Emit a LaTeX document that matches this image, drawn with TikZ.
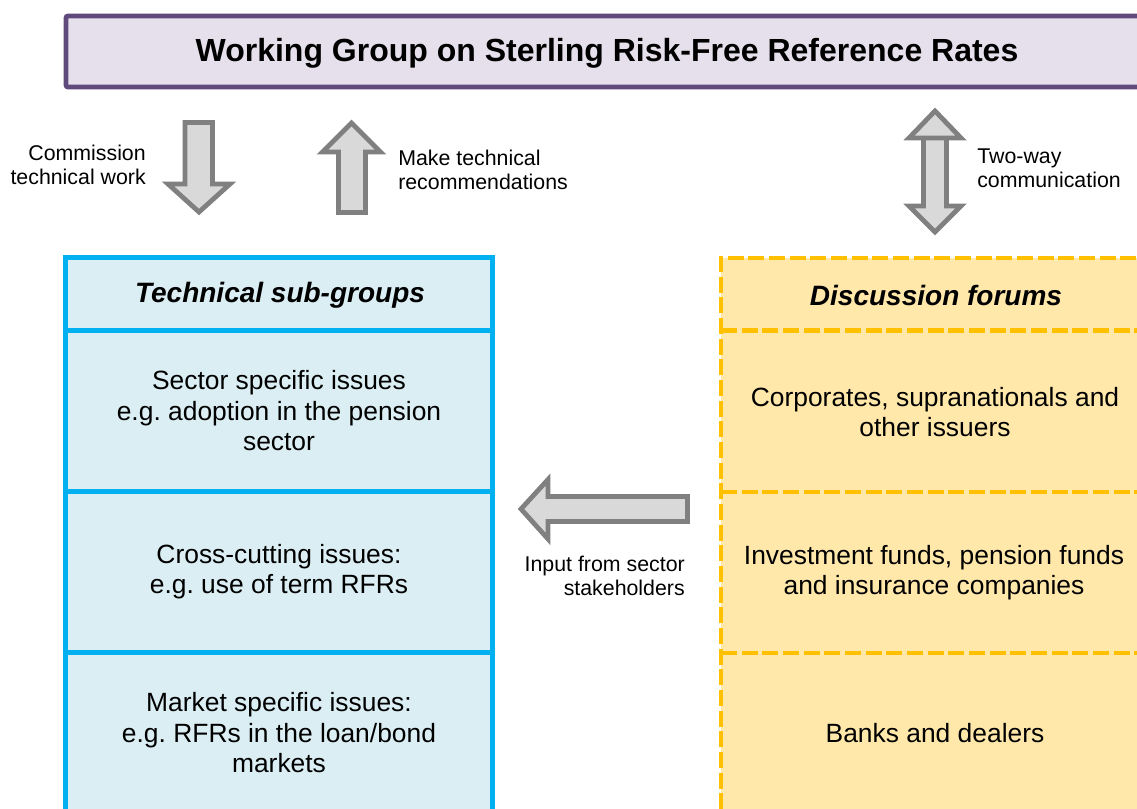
\documentclass[tikz,border=0pt]{standalone}
\usepackage{fontspec}
\setmainfont{Liberation Sans}
\frenchspacing
\definecolor{purpleb}{HTML}{604A7B}
\definecolor{purplef}{HTML}{E6E0EC}
\definecolor{blueb}{HTML}{00B0F0}
\definecolor{bluef}{HTML}{DAEEF3}
\definecolor{goldb}{HTML}{FFC000}
\definecolor{goldf}{HTML}{FFE8AA}
\definecolor{arrowf}{HTML}{D9D9D9}
\definecolor{arrowb}{HTML}{808080}
\tikzset{
  titlebox/.style={draw=purpleb, fill=purplef, line width=3.6pt, rounded corners=1.5pt},
  bluebox/.style={draw=blueb, fill=bluef, line width=3.6pt},
  blueline/.style={draw=blueb, line width=3.6pt},
  goldline/.style={draw=goldb, line width=3.2pt, dash pattern=on 12pt off 3.5pt},
  blockarrow/.style={draw=arrowb, fill=arrowf, line width=3.6pt, line join=miter, miter limit=10},
  titletext/.style={font=\fontsize{24}{28}\selectfont\bfseries, inner sep=0pt},
  headtext/.style={font=\fontsize{21}{25}\selectfont\bfseries\itshape, inner sep=0pt},
  bodytext/.style={font=\fontsize{19.8}{22.9}\selectfont, align=center, inner sep=0pt},
  smalltext/.style={font=\fontsize{16}{18}\selectfont, inner sep=0pt},
}
\begin{document}
\begin{tikzpicture}[x=0.75pt, y=-0.75pt]
\useasboundingbox (0,0) rectangle (1137,809);
\clip (0,0) rectangle (1137,809);
% title
\draw[titlebox] (66,16) rectangle (1152,87);
\node[titletext] (wg) at (607,53) {Working Group on Sterling Risk-Free Reference Rates};
% block arrows
\draw[blockarrow] (185,122.5) -- (212.5,122.5) -- (212.5,184) -- (230,184) -- (199,212) -- (168,184) -- (185,184) -- cycle;
\draw[blockarrow] (338.5,212.5) -- (365.5,212.5) -- (365.5,152) -- (380.5,152) -- (351.5,123) -- (322.5,152) -- (338.5,152) -- cycle;
\draw[blockarrow] (923.5,138) -- (946.5,138) -- (946.5,206) -- (961,206) -- (935,232) -- (909,206) -- (923.5,206) -- (923.5,138) -- (909,138) -- (935,111) -- (961,138) -- cycle;
\draw[blockarrow] (687.5,496.5) -- (687.5,521.5) -- (548,521.5) -- (548,539) -- (521,509) -- (548,479.5) -- (548,496.5) -- cycle;
% labels
\node[smalltext, anchor=east, align=right] (cmt) at (146,165) {Commission\\technical work};
\node[smalltext, anchor=west, align=left] (mtr) at (398,170) {Make technical\\recommendations};
\node[smalltext, anchor=west, align=left] (twc) at (977,168) {Two-way\\communication};
\node[smalltext, anchor=east, align=right] (ifs) at (685,576) {Input from sector\\stakeholders};
% technical sub-groups
\draw[bluebox] (65.5,257.5) rectangle (492.5,830);
\draw[blueline] (65.5,330.5) -- (492.5,330.5);
\draw[blueline] (65.5,491.5) -- (492.5,491.5);
\draw[blueline] (65.5,652.5) -- (492.5,652.5);
\node[headtext] (tsg) at (280,295) {Technical sub-groups};
\node[bodytext] (ssi) at (279,411) {Sector specific issues\\e.g. adoption in the pension\\sector};
\node[bodytext] (cci) at (279,571.5) {Cross-cutting issues:\\e.g. use of term RFRs};
\node[bodytext] (msi) at (279,733) {Market specific issues:\\e.g. RFRs in the loan/bond\\markets};
% discussion forums
\fill[goldf] (721,258) rectangle (1160,830);
\draw[goldline] (721,830) -- (721,258) -- (1160,258);
\draw[goldline] (721,330.5) -- (1160,330.5);
\draw[goldline] (721,492) -- (1160,492);
\draw[goldline] (721,653) -- (1160,653);
\node[headtext] (df) at (936,295) {Discussion forums};
\node[bodytext] (csi) at (935,412) {Corporates, supranationals and\\other issuers};
\node[bodytext] (ifp) at (934,572.5) {Investment funds, pension funds\\and insurance companies};
\node[bodytext] (bd) at (935,733) {Banks and dealers};
\end{tikzpicture}
\end{document}
